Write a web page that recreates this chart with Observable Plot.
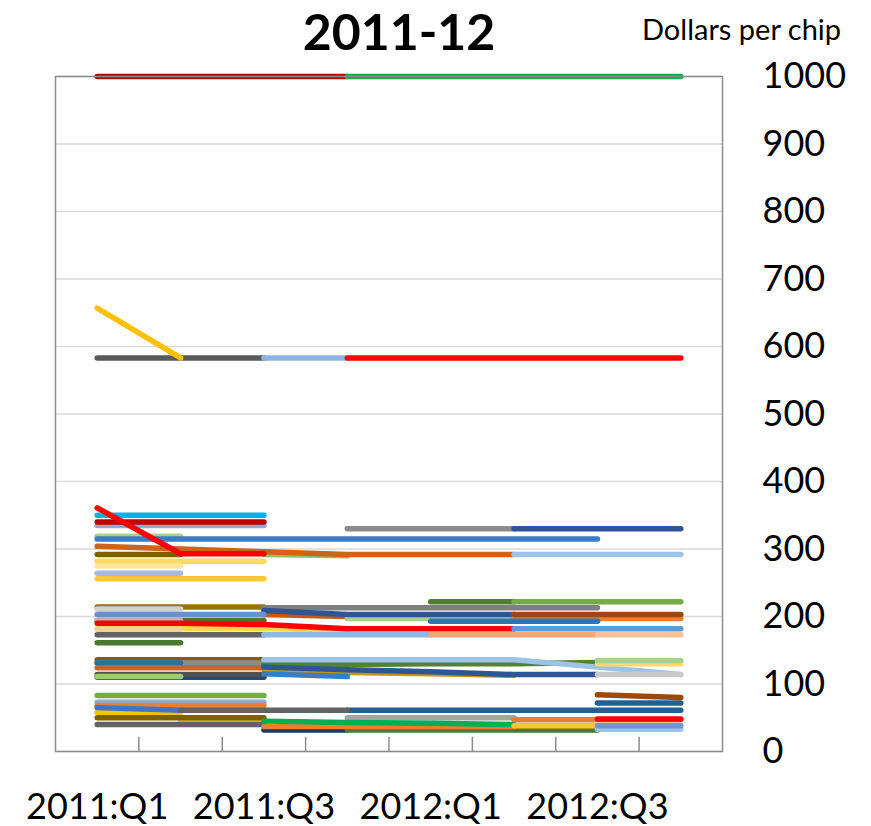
<!DOCTYPE html>
<html>
<head>
<meta charset="utf-8">
<script src="https://cdn.jsdelivr.net/npm/d3@7"></script>
<script src="https://cdn.jsdelivr.net/npm/@observablehq/plot@0.6"></script>
<style>
  html, body { margin: 0; padding: 0; background: #fff; }
  #wrap { position: relative; width: 871px; font-family: Lato, "Open Sans", sans-serif; color: #000; }
  #head { position: relative; height: 36px; z-index: 2; }
  #title { position: absolute; left: 0; width: 798px; text-align: center; top: 6px; font-size: 50px; font-weight: bold; line-height: 1; }
  #unit { position: absolute; left: 642px; top: 14px; font-size: 29px; line-height: 1; white-space: nowrap; }
  #chart svg { background: transparent !important; }
</style>
</head>
<body>
<div id="wrap">
  <div id="head"><div id="title">2011-12</div><div id="unit">Dollars per chip</div></div>
  <div id="chart"></div>
</div>
<script>
const quarters = ["2011:Q1","2011:Q2","2011:Q3","2011:Q4","2012:Q1","2012:Q2","2012:Q3","2012:Q4"];
const labelQuarters = [0, 2, 4, 6];
const yTicks = [0,100,200,300,400,500,600,700,800,900,1000];
const _ = null;

// one colour per series (drawing order: first is at the back)
const seriesColors = [
  "#c00000", "#00b050",
  "#595959", "#8db4e2", "#ff0000", "#ffc000",
  "#8eaadb", "#00b0f0", "#c00000", "#a9d18e", "#3b7dc4", "#8c8c8c", "#2f5597",
  "#8fc45f", "#d0621a", "#7f6000", "#ff0000", "#9dc3e6", "#ffd966", "#ffe699", "#a9bbdd", "#fdc835",
  "#9a7400", "#7f7f7f", "#d0cece", "#c55a11", "#a9d18e", "#2f5597", "#6a8fd0", "#4a7729", "#b4b4b4",
  "#ffd54f", "#ff0000", "#f8cbad", "#636363", "#8fb9e2", "#4a7a2c",
  "#507e32", "#70ad47", "#ed7d31", "#9e480e", "#2e75b6", "#5b9bd5", "#f4a674", "#f8c09c",
  "#7f6000", "#8c8c8c", "#2e6da4", "#d0621a", "#1f4e79", "#505050", "#9bcb7a",
  "#c49a00", "#3a7ec1", "#548235", "#2f5597", "#9dc3e6", "#ffd966", "#a9d18e", "#c9c9c9",
  "#70ad47", "#8faadc", "#ed7d31", "#ffc000", "#4472c4", "#255e91", "#636363",
  "#ffc000", "#7f6000", "#636363", "#203864", "#4a7a2c", "#ed7d31", "#a5a5a5", "#00b050",
  "#ffc72c", "#ed7d31", "#ff0000", "#9dc3e6", "#6f97d1", "#9e480e", "#255e91"
];

// values per quarter (2011:Q1 .. 2012:Q4), dollars per chip
const seriesValues = [
  [1000,1000,1000,1000,_,_,_,_],
  [_,_,_,1000,1000,1000,1000,1000],
  [583,583,583,_,_,_,_,_],
  [_,_,583,583,_,_,_,_],
  [_,_,_,583,583,583,583,583],
  [657,583,_,_,_,_,_,_],
  [335,335,335,_,_,_,_,_],
  [350,350,350,_,_,_,_,_],
  [340,340,340,_,_,_,_,_],
  [319,319,_,_,_,_,_,_],
  [315,315,315,315,315,315,315,_],
  [_,_,_,330,330,330,_,_],
  [_,_,_,_,_,330,330,330],
  [_,_,292,290,_,_,_,_],
  [304,300,296,292,292,292,_,_],
  [292,292,_,_,_,_,_,_],
  [361,293,293,_,_,_,_,_],
  [_,_,_,_,_,292,292,292],
  [282,282,282,_,_,_,_,_],
  [275,275,_,_,_,_,_,_],
  [264,264,_,_,_,_,_,_],
  [256,256,256,_,_,_,_,_],
  [214,214,214,_,_,_,_,_],
  [_,_,213,213,213,213,213,_],
  [211,211,_,_,_,_,_,_],
  [_,_,203,200,_,_,_,_],
  [_,_,_,197,197,197,_,_],
  [_,_,209,203,203,203,_,_],
  [203,203,203,_,_,_,_,_],
  [194,194,194,_,_,_,_,_],
  [194,194,_,_,_,_,_,_],
  [182,182,182,180,_,_,_,_],
  [190,190,188,182,182,182,_,_],
  [181,181,_,_,_,_,_,_],
  [173,173,173,_,_,_,_,_],
  [_,_,173,173,173,_,_,_],
  [161,161,_,_,_,_,_,_],
  [_,_,_,_,222,222,_,_],
  [_,_,_,_,_,222,222,222],
  [_,_,_,_,_,197,197,197],
  [_,_,_,_,_,203,203,203],
  [_,_,_,_,193,193,193,_],
  [_,_,_,_,_,182,182,182],
  [_,_,_,_,173,173,173,_],
  [_,_,_,_,_,_,173,173],
  [136,136,136,_,_,_,_,_],
  [131,131,131,_,_,_,_,_],
  [131,131,_,_,_,_,_,_],
  [124,124,124,_,_,_,_,_],
  [110,110,110,_,_,_,_,_],
  [114,114,114,_,_,_,_,_],
  [111,111,_,_,_,_,_,_],
  [_,_,122,117,115,113,_,_],
  [_,_,115,111,_,_,_,_],
  [_,_,129,129,130,130,132,_],
  [_,_,125,121,118,114,114,_],
  [_,_,136,136,136,136,125,114],
  [_,_,_,_,_,_,130,130],
  [_,_,_,_,_,_,135,135],
  [_,_,_,_,_,_,114,114],
  [83,83,83,_,_,_,_,_],
  [73,73,73,_,_,_,_,_],
  [68,68,68,_,_,_,_,_],
  [58,58,_,_,_,_,_,_],
  [65,61,_,_,_,_,_,_],
  [_,_,_,61,61,61,61,61],
  [_,61,61,61,_,_,_,_],
  [_,45,45,_,_,_,_,_],
  [50,50,50,_,_,_,_,_],
  [40,40,40,_,_,_,_,_],
  [_,_,32,32,_,_,_,_],
  [_,_,_,32,32,32,32,_],
  [_,_,37,37,37,37,_,_],
  [_,_,_,50,50,50,_,_],
  [_,_,45,43,42,40,_,_],
  [_,_,_,_,_,38,38,_],
  [_,_,_,_,_,47,47,47],
  [_,_,_,_,_,_,48,48],
  [_,_,_,_,_,_,33,33],
  [_,_,_,_,_,_,38,38],
  [_,_,_,_,_,_,84,80],
  [_,_,_,_,_,_,72,72]
];

const tickPositions = d3.range(0.5, quarters.length - 1, 1);

const lineMarks = seriesValues.map((vals, i) => {
  const rows = vals.map((v, q) => ({q, v})).filter(d => d.v !== null);
  return Plot.line(rows, {
    x: "q", y: "v",
    stroke: seriesColors[i],
    strokeWidth: 5.5,
    strokeLinecap: "round",
    strokeLinejoin: "round"
  });
});

const chart = Plot.plot({
  width: 871,
  height: 790,
  marginTop: 40,
  marginBottom: 75,
  marginLeft: 55,
  marginRight: 149,
  style: {fontFamily: "Lato, 'Open Sans', sans-serif", color: "#000", background: "transparent"},
  x: {type: "linear", domain: [-0.5, quarters.length - 0.5]},
  y: {domain: [0, 1000]},
  marks: [
    Plot.gridY(yTicks, {stroke: "#d9d9d9", strokeOpacity: 1, strokeWidth: 1.5}),
    ...lineMarks,
    Plot.ruleX(tickPositions, {y1: 0, y2: 21, stroke: "#8c8c8c", strokeWidth: 1.5}),
    Plot.frame({stroke: "#8c8c8c", strokeWidth: 1.5}),
    Plot.axisX(labelQuarters, {tickSize: 0, tickPadding: 42, fontSize: 36, tickFormat: i => quarters[i], label: null}),
    Plot.axisY(yTicks, {anchor: "right", tickSize: 0, tickPadding: 40, fontSize: 36, tickFormat: d => String(d), label: null})
  ]
});
document.getElementById("chart").appendChild(chart);
</script>
</body>
</html>
